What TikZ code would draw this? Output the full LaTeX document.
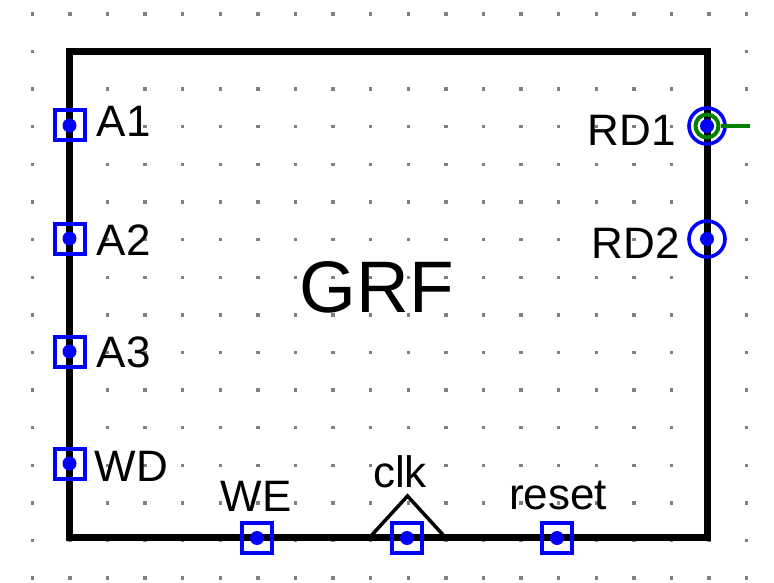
\documentclass[tikz,border=0pt]{standalone}
\usepackage{fontspec}
\setmainfont{Liberation Sans}
\usetikzlibrary{positioning}
\begin{document}
\begin{tikzpicture}[x=1pt,y=-1pt]
 \tikzset{grf node/.style={rectangle, draw, line width=7pt, minimum width=637.5pt,
 		minimum height=486pt, inner sep=0pt}, }
 \tikzset{in port/.style={rectangle, draw=blue, line width=4pt,
 		minimum size=30pt, inner sep=0pt}, }
 \tikzset{out port/.style={circle, draw=blue, line width=3.6pt,
 		minimum size=36pt, inner sep=0pt}, }
 \tikzset{probe node/.style={circle, draw=probe, line width=4pt,
 		minimum size=23pt, inner sep=0pt}, }
 \tikzset{pin label/.style={font=\fontsize{44}{44}\selectfont, inner sep=0pt}, }
 \tikzset{grid dot/.style={fill=black!50}, }
 \colorlet{probe}{green!50!black}
 \useasboundingbox (0,0) rectangle (774,583);
 \foreach \i in {0,...,19}
 \foreach \j in {0,...,15}
 \fill[grid dot] ({32.3+37.6*\i-1.7},{14+37.6*\j-1.7}) rectangle +(3.4,3.4);
 \node[grf node] (grf) at (388.25,294.5) {};
 \node[font=\fontsize{73}{73}\selectfont, inner sep=0pt] (title) at (377,287) {GRF};
 \node[in port] (a1) at (69.5,125.5) {};
 \node[in port] (a2) [on grid, below=113pt of a1] {};
 \node[in port] (a3) [on grid, below=113pt of a2] {};
 \node[in port] (wd) [on grid, below=112pt of a3] {};
 \node[in port] (we) at (257,538) {};
 \node[in port] (clk) [on grid, right=150pt of we] {};
 \node[in port] (reset) [on grid, right=150pt of clk] {};
 \node[out port] (rd1) at (707,126) {};
 \node[out port] (rd2) [on grid, below=113pt of rd1] {};
 \node[probe node] (rd1probe) at (rd1) {};
 \coordinate (stub) at (750,126);
 \coordinate (clkl) at (370,537);
 \coordinate (clkt) at (407.5,496);
 \coordinate (clkr) at (445,537);
 \node[pin label] (a1t) [right=10pt of a1, yshift=4pt] {A1};
 \node[pin label] (a2t) [right=10pt of a2, yshift=-2pt] {A2};
 \node[pin label] (a3t) [right=10pt of a3, yshift=-1pt] {A3};
 \node[pin label] (wdt) [right=8pt of wd, yshift=-3pt] {WD};
 \node[pin label] (rd1t) [left=11pt of rd1, yshift=-4pt] {RD1};
 \node[pin label] (rd2t) [left=7pt of rd2, yshift=-4pt] {RD2};
 \node[pin label] (wet) at (256,496) {WE};
 \node[pin label] (clkt2) at (400,472) {clk};
 \node[pin label] (resett) at (558,495) {reset};
 \draw[line width=3.5pt] (clkl) -- (clkt) -- (clkr);
 \draw[probe, line width=4pt] (rd1probe.east) -- (stub);
 \foreach \x in {a1,a2,a3,wd,we,clk,reset,rd1,rd2}
 \fill[blue] (\x) circle (7);
 %%
\end{tikzpicture}
\end{document}
